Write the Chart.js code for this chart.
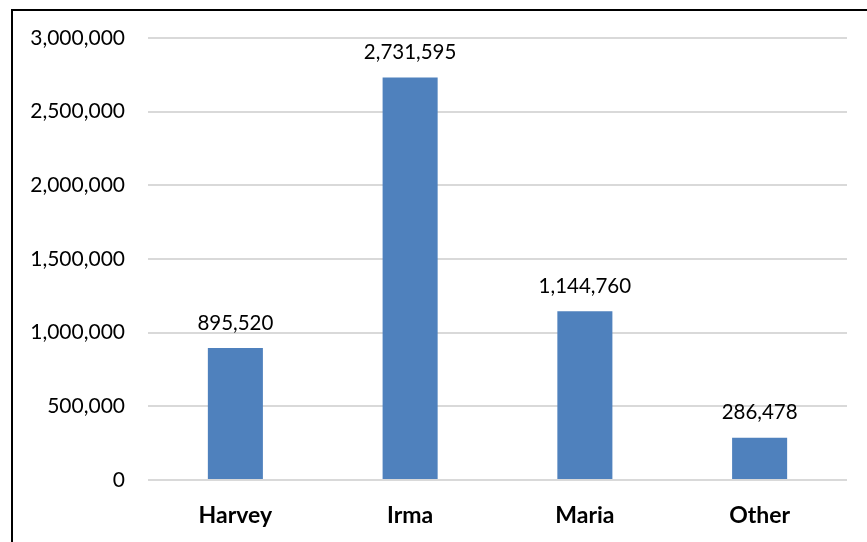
<!DOCTYPE html>
<html>
<head>
<meta charset="utf-8">
<script src="https://cdn.jsdelivr.net/npm/chart.js@4.4.0/dist/chart.umd.min.js"></script>
<style>
  html, body { margin: 0; padding: 0; background: #fff; overflow: hidden; }
  #wrap { position: relative; width: 867px; height: 542px; }
  #frame { position: absolute; left: 11px; top: 9px; width: 900px; height: 600px;
           border-left: 2px solid #000; border-top: 2px solid #000; pointer-events: none; }
  canvas { position: absolute; left: 0; top: 0; }
</style>
</head>
<body>
<div id="wrap">
  <canvas id="c" width="867" height="542"></canvas>
  <div id="frame"></div>
</div>
<script>
const categories = ["Harvey", "Irma", "Maria", "Other"];
const values = [895520, 2731595, 1144760, 286478];
const yTicks = [0, 500000, 1000000, 1500000, 2000000, 2500000, 3000000];

const FONT = "Lato, 'Open Sans', sans-serif";
const fmt = v => v.toLocaleString('en-US');

const dataLabels = {
  id: 'dataLabels',
  afterDatasetsDraw(chart) {
    const ctx = chart.ctx;
    const meta = chart.getDatasetMeta(0);
    ctx.save();
    ctx.font = "20.5px " + FONT;
    ctx.fillStyle = "#000";
    ctx.textAlign = "center";
    ctx.textBaseline = "middle";
    meta.data.forEach((bar, i) => {
      ctx.fillText(fmt(values[i]), bar.x, bar.y - 25);
    });
    ctx.restore();
  }
};

new Chart(document.getElementById('c'), {
  type: 'bar',
  data: {
    labels: categories,
    datasets: [{
      data: values,
      backgroundColor: '#4f81bd',
      borderWidth: 0,
      categoryPercentage: 1,
      barPercentage: 0.315
    }]
  },
  options: {
    responsive: false,
    animation: false,
    events: [],
    layout: { padding: { top: 38, right: 20, bottom: 0, left: 0 } },
    plugins: { legend: { display: false }, tooltip: { enabled: false } },
    scales: {
      x: {
        afterFit(scale) { scale.height = 62; },
        grid: { display: false },
        border: { display: false },
        ticks: { color: '#000', padding: 14, font: { family: FONT, size: 23, weight: 'bold' } }
      },
      y: {
        min: 0, max: 3000000,
        afterBuildTicks(scale) { scale.ticks = yTicks.map(v => ({ value: v })); },
        afterFit(scale) { scale.width = 148; },
        grid: { color: '#d9d9d9', lineWidth: 2, drawTicks: false },
        border: { display: false },
        ticks: { color: '#000', padding: 23, font: { family: FONT, size: 21 },
                 callback: v => fmt(v) }
      }
    }
  },
  plugins: [dataLabels]
});
</script>
</body>
</html>
